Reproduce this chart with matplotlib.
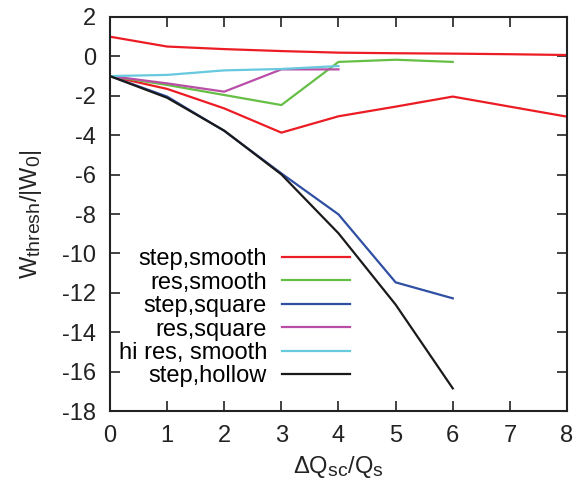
import matplotlib
matplotlib.use('Agg')
import matplotlib.pyplot as plt
import matplotlib._mathtext as mathtext_internal

plt.rcParams['font.family'] = ['Liberation Sans', 'DejaVu Sans']
plt.rcParams['mathtext.fontset'] = 'custom'
plt.rcParams['mathtext.rm'] = 'Liberation Sans'
plt.rcParams['mathtext.it'] = 'Liberation Sans'
plt.rcParams['axes.unicode_minus'] = False
# bigger subscripts in the axis labels
mathtext_internal.SHRINK_FACTOR = 0.82

# threshold vs. space-charge tune shift for each wake model
x_step_smooth_a = [0, 1, 2, 3, 4, 5, 6, 7, 8]
step_smooth_a = [1.0, 0.5, 0.37, 0.27, 0.19, 0.16, 0.14, 0.11, 0.07]
x_step_smooth_b = [0, 1, 2, 3, 4, 5, 6, 8]
step_smooth_b = [-1.0, -1.65, -2.64, -3.87, -3.04, -2.55, -2.04, -3.06]
x_res_smooth = [0, 1, 2, 3, 4, 5, 6]
res_smooth = [-1.0, -1.45, -1.96, -2.47, -0.28, -0.17, -0.28]
x_step_square = [0, 1, 2, 3, 4, 5, 6]
step_square = [-1.0, -2.04, -3.78, -5.94, -8.02, -11.47, -12.28]
x_res_square = [0, 1, 2, 3, 4]
res_square = [-1.0, -1.37, -1.79, -0.66, -0.66]
x_hires_smooth = [0, 1, 2, 3, 4]
hires_smooth = [-1.0, -0.94, -0.71, -0.64, -0.49]
x_step_hollow = [0, 1, 2, 3, 4, 5, 6]
step_hollow = [-1.0, -2.1, -3.77, -5.99, -8.98, -12.6, -16.85]

labels = ['step,smooth', 'res,smooth', 'step,square', 'res,square',
          'hi res, smooth', 'step,hollow']
colors = ['#ec1c24', '#66bf45', '#2f4fa2', '#b94ea6', '#66c9dd', '#1a1a1a']

fs = 17
fig = plt.figure(figsize=(5.77, 4.84), dpi=100)
ax = fig.add_axes([0.1906, 0.1508, 0.7921, 0.8141])

lw = 1.6
ax.plot(x_step_smooth_a, step_smooth_a, color=colors[0], lw=lw, label=labels[0])
ax.plot(x_step_smooth_b, step_smooth_b, color=colors[0], lw=lw)
ax.plot(x_res_smooth, res_smooth, color=colors[1], lw=lw, label=labels[1])
ax.plot(x_step_square, step_square, color=colors[2], lw=lw, label=labels[2])
ax.plot(x_res_square, res_square, color=colors[3], lw=lw, label=labels[3])
ax.plot(x_hires_smooth, hires_smooth, color=colors[4], lw=lw, label=labels[4])
ax.plot(x_step_hollow, step_hollow, color=colors[5], lw=lw, label=labels[5])

ax.set_xlim(0, 8)
ax.set_ylim(-18, 2)
ax.set_xticks(range(0, 9))
ax.set_yticks(range(-18, 3, 2))
ax.tick_params(direction='in', length=7, width=1.2, top=True, right=True,
               labelsize=fs, pad=10, colors='#222222')
for s in ax.spines.values():
    s.set_linewidth(1.5)
    s.set_color('#222222')

ax.set_xlabel(r'$\Delta$Q$_{\rm sc}$/Q$_{\rm s}$', fontsize=fs,
              color='#222222', labelpad=5)
ax.set_ylabel(r'W$_{\rm thresh}$/|W$_0$|', fontsize=fs,
              color='#222222', labelpad=13)

ax.legend(loc='lower left', bbox_to_anchor=(0.019, 0.06), frameon=False,
          markerfirst=False, fontsize=fs, handlelength=2.9, handletextpad=0.63,
          labelspacing=0.06, borderpad=0, borderaxespad=0)

fig.savefig('out.png', dpi=100)
